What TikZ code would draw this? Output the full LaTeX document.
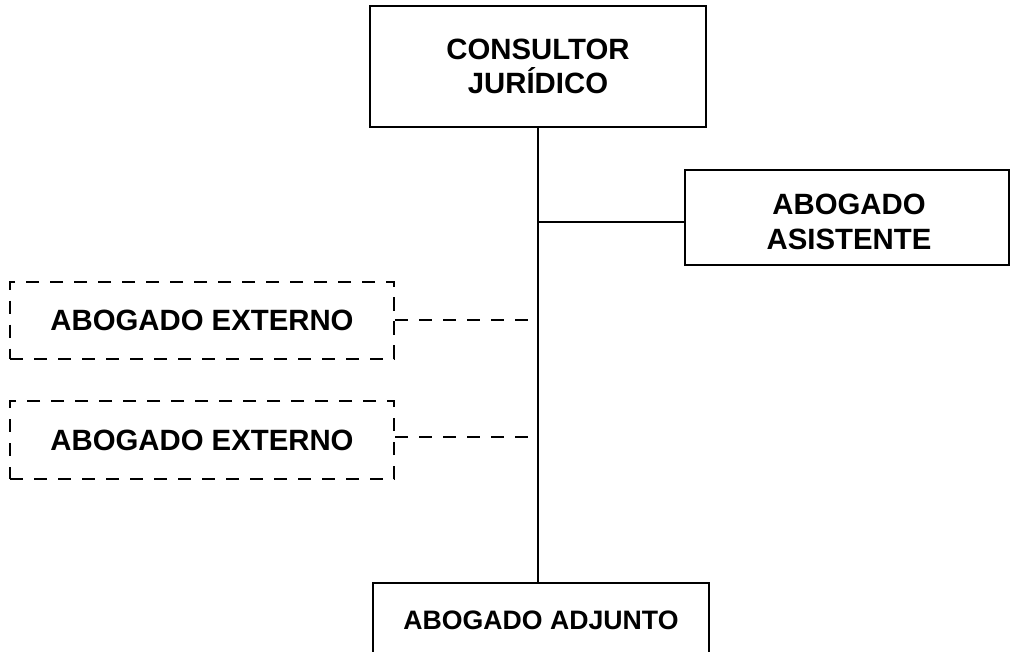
\documentclass[tikz,border=0pt]{standalone}
\usepackage{fontspec}
\setmainfont{Liberation Sans}
\begin{document}
\begin{tikzpicture}[x=0.75pt,y=-0.75pt,
  box/.style={draw=black,line width=1.5pt,inner sep=0pt,align=center,font=\bfseries\fontsize{22}{26}\selectfont},
  dbox/.style={box,dash pattern=on 10pt off 8pt},
  link/.style={draw=black,line width=1.5pt},
  dlink/.style={link,dash pattern=on 10pt off 8pt}]
\useasboundingbox (0,0) rectangle (1012,652);
\clip (0,0) rectangle (1012,652);
\node[box,minimum width=252pt,minimum height=90.75pt] (top) at (538,66.5) {CONSULTOR\\JURÍDICO};
\node[box,minimum width=243pt,minimum height=71.25pt] (asis) at (847,217.5) {};
\node[font=\bfseries\fontsize{22}{26}\selectfont,align=center,inner sep=0pt] (asistxt) at (849,222) {ABOGADO\\ASISTENTE};
\node[dbox,minimum width=288pt,minimum height=57.75pt] (ext1) at (202,320) {ABOGADO EXTERNO};
\node[dbox,minimum width=288pt,minimum height=58.5pt] (ext2) at (202,440) {ABOGADO EXTERNO};
\node[box,minimum width=252pt,minimum height=55.5pt,font=\bfseries\fontsize{20}{23}\selectfont] (adj) at (541,620) {ABOGADO ADJUNTO};
\coordinate (j1) at (538,222);
\coordinate (c1) at (529,320);
\coordinate (c2) at (529,437);
\draw[link] (top.south) -- (top.south |- adj.north);
\draw[link] (j1) -- (j1 -| asis.west);
\draw[dlink] (ext1.east) -- (c1);
\draw[dlink] (c2 -| ext2.east) -- (c2);
\end{tikzpicture}
\end{document}
